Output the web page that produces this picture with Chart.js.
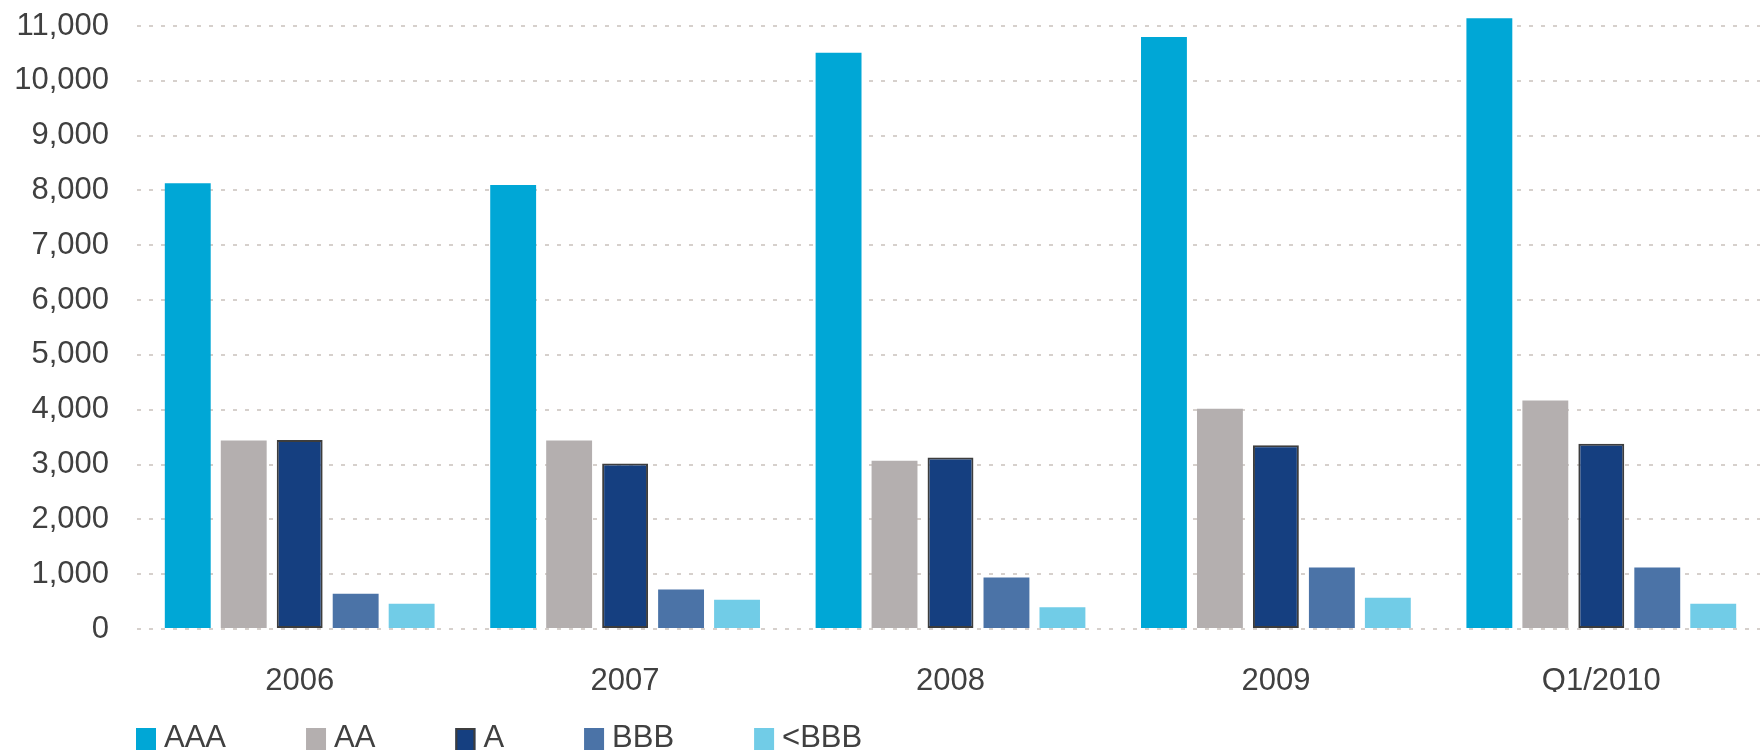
<!DOCTYPE html>
<html>
<head>
<meta charset="utf-8">
<title>Ratings</title>
<script src="https://cdn.jsdelivr.net/npm/chart.js@4.4.1/dist/chart.umd.min.js"></script>
<style>
html, body { margin: 0; padding: 0; background: #ffffff; overflow: hidden; }
#contenedor { position: relative; width: 1764px; height: 750px; }
</style>
</head>
<body>
<div id="contenedor"><canvas id="grafica-ratings"></canvas></div>
<script>
// -------------------------------------------------------------------------------------------------------------------------
// DATA
// -------------------------------------------------------------------------------------------------------------------------
var periodos = ['2006', '2007', '2008', '2009', 'Q1/2010'];

var AAA = [8130, 8100, 10510, 10800, 11140];
var AA = [3440, 3440, 3070, 4020, 4170];
var A = [3450, 3020, 3130, 3350, 3380];
var BBB = [645, 720, 940, 1120, 1120];
var menosBBB = [460, 535, 395, 570, 460];

var ticksY = [0, 1000, 2000, 3000, 4000, 5000, 6000, 7000, 8000, 9000, 10000, 11000];

// -------------------------------------------------------------------------------------------------------------------------
// CHART
// -------------------------------------------------------------------------------------------------------------------------
var fuente = '"Liberation Sans", Arial, sans-serif';
var colorTexto = '#404040';

function serie(label, data, color, borde) {
    return {
        label: label,
        data: data,
        backgroundColor: color,
        borderColor: borde ? '#3d3d3d' : color,
        borderWidth: borde ? 2 : 0,
        borderSkipped: false,
        clip: false
    };
}

var datos = {
    labels: periodos,
    datasets: [
        serie('AAA', AAA, '#00a7d6'),
        serie('AA', AA, '#b4afaf'),
        serie('A', A, '#153f80', true),
        serie('BBB', BBB, '#4b73a7'),
        serie('<BBB', menosBBB, '#71cce7')
    ]
};

// Legend drawn below the axis, left aligned like the original
var leyenda = {
    id: 'leyenda',
    afterDraw: function(chart) {
        var ctx = chart.ctx;
        var x = 136;
        ctx.save();
        ctx.font = '31px ' + fuente;
        ctx.textBaseline = 'alphabetic';
        chart.data.datasets.forEach(function(ds) {
            ctx.fillStyle = ds.backgroundColor;
            ctx.fillRect(x, 728, 20, 24);
            if (ds.borderWidth) {
                ctx.strokeStyle = ds.borderColor;
                ctx.lineWidth = 2;
                ctx.strokeRect(x + 1, 729, 18, 22);
            }
            ctx.fillStyle = colorTexto;
            ctx.fillText(ds.label, x + 28, 747);
            x += 28 + ctx.measureText(ds.label).width + 80;
        });
        ctx.restore();
    }
};

var opciones = {
    responsive: true,
    maintainAspectRatio: false,
    animation: false,
    layout: {
        padding: { top: 26, left: 0, right: 0, bottom: 58 }
    },
    datasets: {
        bar: {
            categoryPercentage: 0.86,
            barPercentage: 0.82
        }
    },
    scales: {
        x: {
            grid: { display: false },
            border: { display: false },
            ticks: {
                color: colorTexto,
                font: { family: fuente, size: 31 },
                padding: 26,
                maxRotation: 0
            },
            afterFit: function(escala) { escala.height = 63; }
        },
        y: {
            min: 0,
            max: 11000,
            afterBuildTicks: function(escala) {
                escala.ticks = ticksY.map(function(v) { return { value: v }; });
            },
            grid: {
                color: '#d6d0cc',
                lineWidth: 2,
                drawTicks: false
            },
            border: { display: false, dash: [4, 8] },
            ticks: {
                color: colorTexto,
                font: { family: fuente, size: 31 },
                padding: 28,
                callback: function(v) { return Number(v).toLocaleString('en-US'); }
            },
            afterFit: function(escala) {
                escala.width = 137;
                escala.paddingTop = 0;
                escala.paddingBottom = 0;
            }
        }
    },
    plugins: {
        legend: { display: false },
        tooltip: { enabled: false }
    }
};

var ctx = document.getElementById('grafica-ratings').getContext('2d');
var grafica = new Chart(ctx, {
    type: 'bar',
    data: datos,
    options: opciones,
    plugins: [leyenda]
});
</script>
</body>
</html>
